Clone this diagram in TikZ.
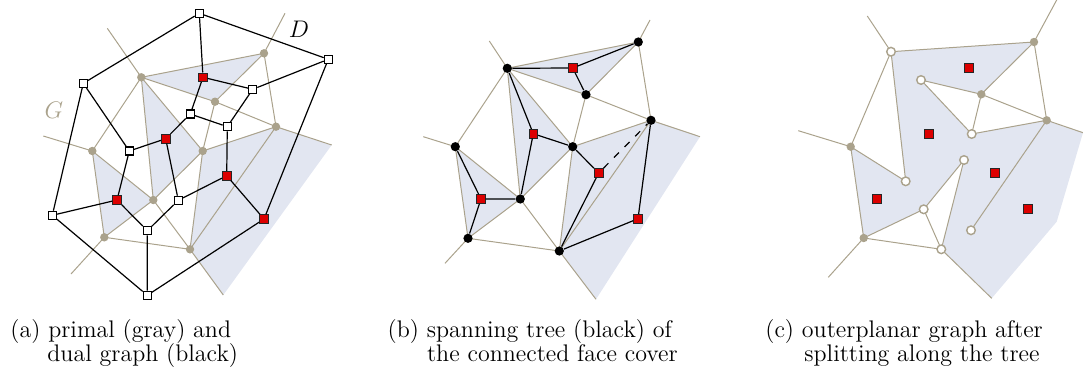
\documentclass[tikz,border=0pt]{standalone}
\begin{document}
\begin{tikzpicture}[x=0.5pt,y=-0.5pt,
  gline/.style={draw=tanc,line width=0.5pt},
  bline/.style={draw=black,line width=0.6pt},
  shade/.style={fill=shadec,draw=none},
  gdot/.style={circle,fill=tanc,inner sep=0pt,minimum size=4.2pt},
  bdot/.style={circle,fill=black,inner sep=0pt,minimum size=4.6pt},
  wsq/.style={rectangle,draw=black,fill=white,line width=0.6pt,inner sep=0pt,minimum size=4pt},
  rsq/.style={rectangle,draw=black!85,fill=redc,line width=0.5pt,inner sep=0pt,minimum size=4.3pt},
  wcirc/.style={circle,draw=tanc,fill=white,line width=0.7pt,inner sep=0pt,minimum size=4.3pt},
  captxt/.style={anchor=base west,inner sep=0pt,font=\fontsize{12}{12}\selectfont}]
\definecolor{tanc}{RGB}{170,162,140}
\definecolor{shadec}{RGB}{226,230,241}
\definecolor{redc}{RGB}{220,0,0}
\useasboundingbox (0,0) rectangle (1083,375);

% ================= panel (a) =================
\coordinate (P1) at (141.3,77.3);
\coordinate (P2) at (264,53.3);
\coordinate (P3) at (215,101.7);
\coordinate (P4) at (276,126.7);
\coordinate (P5) at (202.7,151);
\coordinate (P6) at (92.3,151);
\coordinate (P7) at (153.3,200);
\coordinate (P8) at (104.3,237.3);
\coordinate (P9) at (190,249.3);
\coordinate (aR1) at (107.3,28.3);
\coordinate (aR2) at (285,13.3);
\coordinate (aR4) at (331.7,145);
\coordinate (aR6) at (43.3,136);
\coordinate (aR8) at (71,274);
\coordinate (aR9) at (223.3,295);

\fill[shade] (P1)--(P2)--(P3)--cycle;
\fill[shade] (P1)--(P5)--(P7)--cycle;
\fill[shade] (P6)--(P7)--(P8)--cycle;
\fill[shade] (P5)--(P4)--(aR4)--(aR9)--(P9)--cycle;

\draw[gline] (P1)--(P2) (P1)--(P3) (P3)--(P4) (P2)--(P3) (P2)--(aR2) (P2)--(P4)
  (P3)--(P5) (P4)--(P5) (P4)--(P9) (P4)--(aR4) (P1)--(P5) (P1)--(P7) (P5)--(P7)
  (P1)--(P6) (P1)--(aR1) (P6)--(aR6) (P6)--(P7) (P6)--(P8) (P7)--(P8) (P8)--(aR8)
  (P8)--(P9) (P7)--(P9) (P9)--(aR9) (P5)--(P9);

\foreach \p in {P1,P2,P3,P4,P5,P6,P7,P8,P9} \node[gdot] (n\p) at (\p) {};

\node[wsq] (D1) at (199.3,13.3) {};
\node[wsq] (D2) at (328.3,59.3) {};
\node[wsq] (D3) at (83.3,83.3) {};
\node[wsq] (D4) at (252.7,89.3) {};
\node[wsq] (D5) at (190.3,114) {};
\node[wsq] (D6) at (227.3,126.7) {};
\node[wsq] (D7) at (129.3,151) {};
\node[wsq] (D8) at (52.3,215.3) {};
\node[wsq] (D9) at (178.3,200.3) {};
\node[wsq] (D10) at (147.3,230.7) {};
\node[wsq] (D11) at (147.3,295.3) {};
\node[rsq] (R1) at (203,77.3) {};
\node[rsq] (R2) at (165.7,138.7) {};
\node[rsq] (R3) at (117,200) {};
\node[rsq] (R4) at (226.7,175.7) {};
\node[rsq] (R5) at (264,219) {};

\draw[bline] (D1)--(D3) (D1)--(D2) (D1)--(R1) (D2)--(D4) (D2)--(R5) (D3)--(D7) (D3)--(D8)
  (R1)--(D4) (R1)--(D5) (D4)--(D6) (D5)--(R2) (D5)--(D6) (D6)--(R4) (D7)--(R2) (D7)--(R3)
  (R2)--(D9) (R3)--(D8) (R3)--(D10) (D9)--(D10) (D9)--(R4) (R4)--(R5) (D10)--(D11)
  (D8)--(D11) (D11)--(R5);

\node[text=tanc,font=\fontsize{12}{12}\selectfont,inner sep=0pt] (labG) at (54,110) {$G$};
\node[text=black,font=\fontsize{12}{12}\selectfont,inner sep=0pt] (labD) at (299,29) {$D$};

% ================= panel (b) =================
\coordinate (B1) at (507.3,68.3);
\coordinate (B2) at (638.3,42);
\coordinate (B3) at (586,94.7);
\coordinate (B4) at (651,120.3);
\coordinate (B5) at (572.7,146.7);
\coordinate (B6) at (455.3,146.7);
\coordinate (B7) at (520.3,199);
\coordinate (B8) at (468,238.3);
\coordinate (B9) at (559.3,251);
\coordinate (bR1) at (489.3,41);
\coordinate (bR2) at (650,20);
\coordinate (bR4) at (700,136.7);
\coordinate (bR6) at (423.3,136.7);
\coordinate (bR8) at (445,263.3);
\coordinate (bR9) at (596,299.3);

\fill[shade] (B1)--(B2)--(B3)--cycle;
\fill[shade] (B1)--(B5)--(B7)--cycle;
\fill[shade] (B6)--(B7)--(B8)--cycle;
\fill[shade] (B5)--(B4)--(bR4)--(bR9)--(B9)--cycle;

\draw[gline] (B1)--(B2) (B1)--(B3) (B3)--(B4) (B2)--(B3) (B2)--(bR2) (B2)--(B4)
  (B3)--(B5) (B4)--(B5) (B4)--(B9) (B4)--(bR4) (B1)--(B5) (B1)--(B7) (B5)--(B7)
  (B1)--(B6) (B1)--(bR1) (B6)--(bR6) (B6)--(B7) (B6)--(B8) (B7)--(B8) (B8)--(bR8)
  (B8)--(B9) (B7)--(B9) (B9)--(bR9) (B5)--(B9);

\foreach \p in {B1,B2,B3,B4,B5,B6,B7,B8,B9} \node[bdot] (n\p) at (\p) {};

\node[rsq] (Q1) at (572.7,68) {};
\node[rsq] (Q2) at (533.3,133.7) {};
\node[rsq] (Q3) at (481,199) {};
\node[rsq] (Q4) at (598.7,173) {};
\node[rsq] (Q5) at (638,218.7) {};

\draw[bline] (nB1)--(Q1) (Q1)--(nB2) (Q1)--(nB3)
  (nB1)--(Q2) (Q2)--(nB5) (Q2)--(nB7)
  (nB6)--(Q3) (Q3)--(nB7) (Q3)--(nB8)
  (nB5)--(Q4) (Q4)--(nB9)
  (nB9)--(Q5) (Q5)--(nB4);
\draw[bline,dash pattern=on 3.5pt off 4pt] (Q4)--(nB4);

% ================= panel (c) =================
\coordinate (C1) at (1034,42);
\coordinate (C2) at (981.3,94.3);
\coordinate (C3) at (1046.7,120.3);
\coordinate (C4) at (850.7,146.7);
\coordinate (C5) at (863.7,238);
\coordinate (W1) at (891,51.7);
\coordinate (W2) at (921,80);
\coordinate (W3) at (971.7,134);
\coordinate (W4) at (964,160);
\coordinate (W5) at (905.7,181.3);
\coordinate (W6) at (923.7,209.3);
\coordinate (W7) at (971,230.3);
\coordinate (W8) at (941.3,249.3);
\coordinate (cRW1) at (867.3,16);
\coordinate (cRC1) at (1056.7,0);
\coordinate (cRC3) at (1083,132.7);
\coordinate (cRC4) at (798.3,130.7);
\coordinate (cRC5) at (828.3,277.3);
\coordinate (cRW8) at (991.7,298.3);
\coordinate (cK) at (1056.7,221.7);

\fill[shade] (W1)--(C1)--(C2)--(W2)--(W3)--(C3)--(cRC3)--(cK)--(cRW8)--(W8)--(W4)--(W6)
  --(C5)--(C4)--(W5)--cycle;

\draw[gline] (W1)--(C1) (W1)--(cRW1) (W1)--(C4) (W1)--(W5) (C1)--(cRC1) (C1)--(C2)
  (C1)--(C3) (W2)--(C2) (W2)--(W3) (C2)--(W3) (C2)--(C3) (W3)--(C3) (C3)--(cRC3)
  (C3)--(W7) (C4)--(cRC4) (C4)--(W5) (C4)--(C5) (C5)--(W6) (C5)--(W8) (C5)--(cRC5)
  (W6)--(W4) (W6)--(W8) (W4)--(W8) (W8)--(cRW8);

\foreach \p in {C1,C2,C3,C4,C5} \node[gdot] (n\p) at (\p) {};
\foreach \p in {W1,W2,W3,W4,W5,W6,W7,W8} \node[wcirc] (n\p) at (\p) {};

\node[rsq] (S1) at (968.7,68) {};
\node[rsq] (S2) at (929,133.7) {};
\node[rsq] (S3) at (994.7,172.7) {};
\node[rsq] (S4) at (876.7,199) {};
\node[rsq] (S5) at (1027.7,208.7) {};

% ================= captions =================
\node[captxt] (ca1) at (10,337) {(a) primal (gray) and};
\node[captxt] (ca2) at (47,361) {dual graph (black)};
\node[captxt] (cb1) at (387.3,337) {(b) spanning tree (black) of};
\node[captxt] (cb2) at (426.7,361) {the connected face cover};
\node[captxt] (cc1) at (765,337) {(c) outerplanar graph after};
\node[captxt] (cc2) at (804,361) {splitting along the tree};
\end{tikzpicture}
\end{document}
